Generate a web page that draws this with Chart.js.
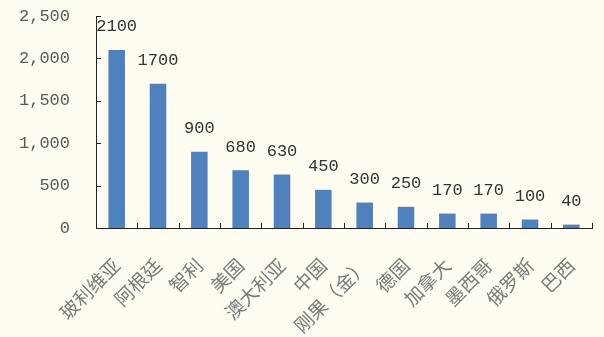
<!DOCTYPE html>
<html>
<head>
<meta charset="utf-8">
<script src="https://cdn.jsdelivr.net/npm/chart.js@4.4.1/dist/chart.umd.min.js"></script>
<style>
  html, body { margin: 0; padding: 0; background: #fffdf2; }
  #wrap { width: 604px; height: 337px; position: relative; }
</style>
</head>
<body>
<div id="wrap"><canvas id="c" width="604" height="337"></canvas></div>
<script>
const categories = ['玻利维亚', '阿根廷', '智利', '美国', '澳大利亚', '中国', '刚果（金）', '德国', '加拿大', '墨西哥', '俄罗斯', '巴西'];
const values = [2100, 1700, 900, 680, 630, 450, 300, 250, 170, 170, 100, 40];
const yTicks = [0, 500, 1000, 1500, 2000, 2500];

const numFont = '"Liberation Mono", "DejaVu Sans Mono", monospace';
const cjkFont = '"Noto Sans CJK SC", sans-serif';

const insideTicks = {
  id: 'insideTicks',
  afterDraw(chart) {
    const ctx = chart.ctx;
    const x = chart.scales.x, y = chart.scales.y;
    ctx.save();
    ctx.strokeStyle = '#222';
    ctx.lineWidth = 1;
    ctx.beginPath();
    y.ticks.forEach(t => {
      const py = Math.round(y.getPixelForValue(t.value)) + 0.5;
      ctx.moveTo(x.left, py);
      ctx.lineTo(x.left + 5, py);
    });
    const step = x.getPixelForTick(1) - x.getPixelForTick(0);
    for (let i = 0; i <= categories.length; i++) {
      const px = Math.round(x.getPixelForTick(0) - step / 2 + i * step) + 0.5;
      ctx.moveTo(px, y.bottom);
      ctx.lineTo(px, y.bottom - 5);
    }
    ctx.stroke();
    ctx.restore();
  }
};

const valueLabels = {
  id: 'valueLabels',
  afterDatasetsDraw(chart) {
    const ctx = chart.ctx;
    const meta = chart.getDatasetMeta(0);
    ctx.save();
    ctx.font = '17px ' + numFont;
    ctx.fillStyle = '#333333';
    ctx.textAlign = 'center';
    ctx.textBaseline = 'middle';
    meta.data.forEach((bar, i) => {
      ctx.fillText(String(values[i]), bar.x, bar.y - 23);
    });
    ctx.restore();
  }
};

new Chart(document.getElementById('c'), {
  type: 'bar',
  data: {
    labels: categories,
    datasets: [{
      data: values,
      backgroundColor: '#4f81bd',
      borderWidth: 0,
      barPercentage: 0.8,
      categoryPercentage: 0.5
    }]
  },
  options: {
    responsive: false,
    animation: false,
    devicePixelRatio: 1,
    layout: { padding: { top: 16, right: 12, left: 0, bottom: 0 } },
    plugins: { legend: { display: false }, tooltip: { enabled: false } },
    scales: {
      x: {
        grid: { display: false, drawTicks: false },
        border: { display: true, color: '#222', width: 1 },
        ticks: {
          autoSkip: false,
          maxRotation: 45,
          minRotation: 45,
          padding: 26,
          color: '#7a7a7a',
          font: { family: cjkFont, size: 19 }
        },
        afterFit(s) { s.height = 109; s.paddingLeft = 0; s.paddingRight = 0; }
      },
      y: {
        min: 0,
        max: 2500,
        afterBuildTicks(s) { s.ticks = yTicks.map(v => ({ value: v })); },
        grid: { display: false, drawTicks: false },
        border: { display: true, color: '#222', width: 1 },
        ticks: {
          padding: 26,
          color: '#595959',
          font: { family: numFont, size: 17 },
          callback: v => v.toLocaleString('en-US')
        },
        afterFit(s) { s.width = 96; s.paddingTop = 0; s.paddingBottom = 0; }
      }
    }
  },
  plugins: [insideTicks, valueLabels]
});
</script>
</body>
</html>
